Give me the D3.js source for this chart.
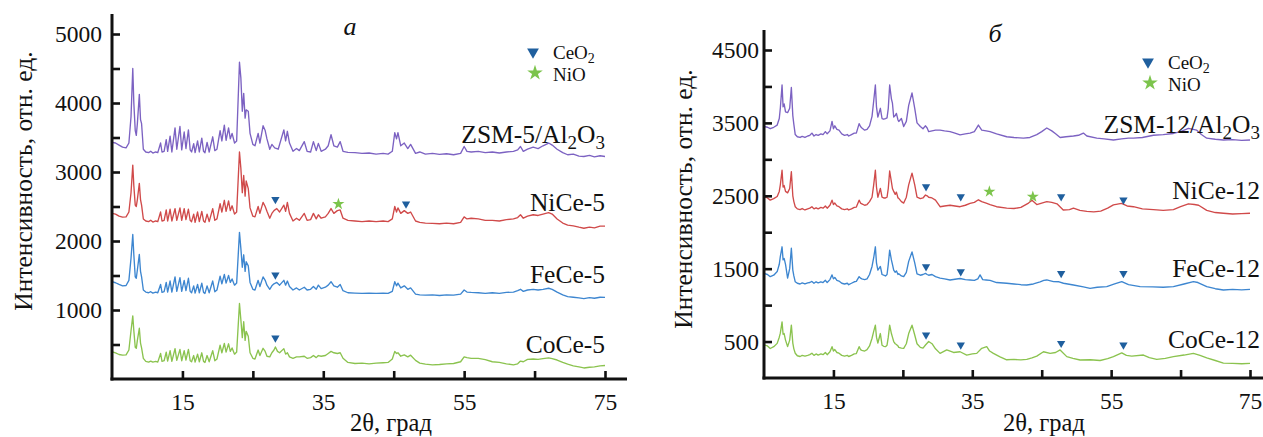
<!DOCTYPE html>
<meta charset="utf-8">
<body style="margin:0;background:#fff;">
<svg id="chart" width="1263" height="437"></svg>
<script src="https://cdn.jsdelivr.net/npm/d3@7/dist/d3.min.js"></script>
<script>
// ---- data: [2θ, intensity] ----
const zsm5 = [[5.0,3430],[5.5,3420],[6.0,3390],[6.5,3360],[7.0,3350],[7.4,3420],[7.7,3800],[7.95,4500],[8.1,4000],[8.3,3600],[8.45,3530],[8.6,3700],[8.88,4125],[9.05,3760],[9.2,3700],[9.45,3330],[9.8,3290],[10.2,3280],[10.5,3300],[10.8,3275],[11.2,3290],[11.5,3280],[11.9,3420],[12.1,3290],[12.4,3300],[12.7,3470],[12.9,3300],[13.25,3520],[13.5,3290],[13.95,3640],[14.2,3330],[14.65,3660],[14.9,3320],[15.25,3580],[15.5,3340],[15.85,3610],[16.1,3320],[16.3,3290],[16.6,3410],[16.8,3280],[17.15,3450],[17.4,3290],[17.75,3490],[18.0,3300],[18.2,3280],[18.5,3430],[18.8,3290],[19.3,3510],[19.6,3310],[19.9,3330],[20.35,3600],[20.6,3450],[20.95,3680],[21.2,3460],[21.55,3640],[21.8,3480],[22.05,3560],[22.4,3420],[22.7,3450],[23.1,4590],[23.3,4360],[23.5,3880],[23.7,4140],[23.9,3780],[24.05,3900],[24.35,3880],[24.6,3560],[25.0,3400],[25.3,3380],[25.75,3560],[26.0,3420],[26.45,3670],[26.75,3600],[27.0,3480],[27.4,3330],[27.7,3400],[28.1,3350],[28.6,3330],[29.4,3610],[29.65,3450],[29.9,3590],[30.2,3420],[30.7,3300],[31.2,3340],[31.6,3310],[32.3,3440],[32.7,3300],[33.2,3290],[33.6,3440],[34.0,3310],[34.3,3415],[34.7,3300],[35.3,3330],[35.7,3380],[36.1,3540],[36.5,3380],[37.0,3360],[37.4,3440],[37.8,3300],[38.5,3285],[39.5,3280],[40.5,3270],[41.5,3275],[42.5,3260],[43.5,3270],[44.2,3260],[44.8,3300],[45.15,3570],[45.4,3480],[45.6,3570],[46.0,3380],[46.5,3420],[47.0,3340],[47.4,3400],[48.1,3270],[48.7,3290],[49.5,3260],[50.5,3270],[51.5,3255],[52.5,3265],[53.5,3250],[54.5,3270],[55.0,3370],[55.4,3300],[56.0,3290],[57.0,3300],[58.0,3280],[59.0,3290],[60.0,3275],[61.0,3290],[62.0,3300],[62.6,3320],[63.0,3370],[63.4,3300],[64.0,3330],[64.8,3360],[65.5,3340],[66.2,3380],[67.0,3420],[67.5,3390],[68.2,3330],[69.0,3280],[69.7,3250],[70.5,3260],[71.3,3230],[72.0,3225],[72.8,3240],[73.5,3220],[74.3,3235],[75.0,3225]];
const nice5 = [[5.0,2400],[5.5,2390],[6.0,2360],[6.5,2345],[7.0,2350],[7.4,2420],[7.7,2700],[7.95,3100],[8.1,2800],[8.3,2520],[8.45,2500],[8.6,2600],[8.88,2835],[9.05,2600],[9.2,2520],[9.45,2320],[9.8,2290],[10.2,2280],[10.5,2300],[10.8,2275],[11.2,2290],[11.5,2280],[11.9,2420],[12.1,2290],[12.4,2300],[12.7,2450],[12.9,2290],[13.25,2460],[13.5,2290],[13.95,2470],[14.2,2300],[14.65,2480],[14.9,2300],[15.25,2470],[15.5,2310],[15.85,2460],[16.1,2300],[16.3,2280],[16.6,2390],[16.8,2270],[17.15,2420],[17.4,2280],[17.75,2430],[18.0,2290],[18.2,2270],[18.5,2390],[18.8,2280],[19.3,2470],[19.6,2300],[19.9,2320],[20.35,2540],[20.6,2420],[20.95,2590],[21.2,2430],[21.55,2580],[21.8,2440],[22.05,2510],[22.4,2390],[22.7,2420],[23.1,3290],[23.3,3050],[23.5,2700],[23.7,2950],[23.9,2650],[24.05,2870],[24.35,2760],[24.6,2480],[25.0,2360],[25.3,2350],[25.75,2500],[26.0,2400],[26.45,2560],[26.75,2500],[27.0,2430],[27.4,2330],[27.7,2400],[28.0,2440],[28.4,2470],[28.8,2420],[29.4,2520],[29.65,2430],[29.9,2560],[30.2,2400],[30.7,2290],[31.2,2330],[31.6,2300],[32.3,2400],[32.7,2300],[33.2,2310],[33.6,2400],[34.0,2320],[34.3,2380],[34.7,2330],[35.3,2350],[35.7,2400],[36.1,2470],[36.5,2400],[37.0,2440],[37.4,2450],[37.8,2330],[38.5,2300],[39.5,2290],[40.5,2280],[41.5,2290],[42.5,2280],[43.5,2290],[44.2,2280],[44.8,2320],[45.15,2500],[45.4,2420],[45.6,2480],[46.0,2400],[46.5,2440],[47.0,2400],[47.4,2420],[48.1,2290],[48.7,2270],[49.5,2260],[50.5,2255],[51.5,2250],[52.5,2260],[53.5,2250],[54.5,2270],[55.0,2350],[55.4,2320],[56.0,2330],[57.0,2320],[58.0,2300],[59.0,2300],[60.0,2290],[61.0,2310],[62.0,2320],[62.6,2340],[63.0,2380],[63.4,2330],[64.0,2360],[64.8,2380],[65.5,2370],[66.2,2390],[67.0,2410],[67.5,2390],[68.2,2320],[69.0,2260],[69.7,2230],[70.5,2220],[71.3,2200],[72.0,2185],[72.8,2200],[73.5,2190],[74.3,2215],[75.0,2215]];
const fece5 = [[5.0,1410],[5.5,1395],[6.0,1370],[6.5,1350],[7.0,1355],[7.4,1430],[7.7,1750],[7.95,2095],[8.1,1800],[8.3,1480],[8.45,1460],[8.6,1580],[8.88,1805],[9.05,1560],[9.2,1480],[9.45,1290],[9.8,1260],[10.2,1250],[10.5,1265],[10.8,1245],[11.2,1260],[11.5,1250],[11.9,1370],[12.1,1255],[12.4,1265],[12.7,1400],[12.9,1260],[13.25,1420],[13.5,1260],[13.95,1480],[14.2,1270],[14.65,1470],[14.9,1270],[15.25,1430],[15.5,1280],[15.85,1460],[16.1,1270],[16.3,1250],[16.6,1350],[16.8,1245],[17.15,1370],[17.4,1250],[17.75,1390],[18.0,1255],[18.2,1240],[18.5,1350],[18.8,1250],[19.3,1420],[19.6,1265],[19.9,1290],[20.35,1490],[20.6,1380],[20.95,1515],[21.2,1390],[21.55,1500],[21.8,1400],[22.05,1450],[22.4,1360],[22.7,1390],[23.1,2125],[23.3,1890],[23.5,1620],[23.7,1800],[23.9,1560],[24.05,1700],[24.35,1640],[24.6,1400],[25.0,1300],[25.3,1290],[25.75,1430],[26.0,1340],[26.45,1480],[26.75,1430],[27.0,1360],[27.4,1300],[27.7,1350],[28.0,1380],[28.4,1400],[28.8,1360],[29.4,1430],[29.65,1360],[29.9,1420],[30.2,1340],[30.7,1290],[31.2,1320],[31.6,1290],[32.3,1330],[32.7,1290],[33.2,1300],[33.6,1340],[34.0,1300],[34.3,1360],[34.7,1310],[35.3,1330],[35.7,1360],[36.1,1410],[36.5,1350],[37.0,1330],[37.4,1370],[37.8,1280],[38.5,1250],[39.5,1245],[40.5,1240],[41.5,1245],[42.5,1240],[43.5,1245],[44.2,1240],[44.8,1270],[45.15,1410],[45.4,1350],[45.6,1390],[46.0,1320],[46.5,1350],[47.0,1300],[47.4,1320],[48.1,1230],[48.7,1220],[49.5,1215],[50.5,1220],[51.5,1210],[52.5,1220],[53.5,1215],[54.5,1230],[55.0,1290],[55.4,1260],[56.0,1255],[57.0,1250],[58.0,1240],[59.0,1250],[60.0,1240],[61.0,1255],[62.0,1260],[62.6,1280],[63.0,1300],[63.4,1270],[64.0,1290],[64.8,1300],[65.5,1290],[66.2,1300],[67.0,1315],[67.5,1300],[68.2,1260],[69.0,1220],[69.7,1195],[70.5,1185],[71.3,1175],[72.0,1165],[72.8,1180],[73.5,1170],[74.3,1185],[75.0,1183]];
const coce5 = [[5.0,395],[5.5,380],[6.0,355],[6.5,345],[7.0,350],[7.4,420],[7.7,700],[7.95,915],[8.1,700],[8.3,460],[8.45,445],[8.6,560],[8.88,735],[9.05,520],[9.2,450],[9.45,300],[9.8,255],[10.2,245],[10.5,260],[10.8,245],[11.2,255],[11.5,245],[11.9,370],[12.1,255],[12.4,265],[12.7,390],[12.9,260],[13.25,410],[13.5,255],[13.95,440],[14.2,270],[14.65,430],[14.9,265],[15.25,410],[15.5,275],[15.85,430],[16.1,265],[16.3,250],[16.6,340],[16.8,245],[17.15,360],[17.4,250],[17.75,380],[18.0,255],[18.2,240],[18.5,340],[18.8,250],[19.3,410],[19.6,265],[19.9,290],[20.35,490],[20.6,380],[20.95,515],[21.2,390],[21.55,510],[21.8,400],[22.05,450],[22.4,360],[22.7,390],[23.1,1095],[23.3,855],[23.5,600],[23.7,830],[23.9,560],[24.05,690],[24.35,620],[24.6,380],[25.0,300],[25.3,290],[25.75,420],[26.0,340],[26.45,445],[26.75,400],[27.0,330],[27.4,320],[27.7,380],[28.0,420],[28.2,465],[28.5,400],[28.8,380],[29.4,440],[29.65,360],[29.9,380],[30.2,320],[30.7,300],[31.2,320],[31.6,320],[32.3,330],[32.7,300],[33.2,310],[33.6,340],[34.0,310],[34.3,340],[34.7,330],[35.3,340],[35.7,370],[36.1,400],[36.5,380],[37.0,370],[37.4,380],[37.8,300],[38.5,240],[39.5,225],[40.5,230],[41.5,220],[42.5,230],[43.5,235],[44.2,240],[44.8,290],[45.15,400],[45.4,370],[45.6,380],[46.0,330],[46.5,350],[47.0,320],[47.4,345],[48.1,270],[48.7,230],[49.5,215],[50.5,205],[51.5,210],[52.5,220],[53.5,225],[54.5,250],[55.0,320],[55.4,310],[56.0,300],[57.0,300],[58.0,280],[59.0,250],[60.0,240],[61.0,220],[62.0,205],[62.6,220],[63.0,260],[63.4,250],[64.0,285],[64.8,290],[65.5,285],[66.2,295],[67.0,305],[67.5,295],[68.2,275],[69.0,240],[69.7,215],[70.5,190],[71.3,175],[72.0,160],[72.8,170],[73.5,175],[74.3,190],[75.0,195]];

const zsm12 = [[5.0,3450],[5.5,3440],[5.9,3420],[6.4,3440],[6.9,3470],[7.2,3560],[7.35,3700],[7.6,4020],[7.75,3720],[7.9,3760],[8.1,3650],[8.4,3640],[8.7,3700],[8.94,3985],[9.15,3600],[9.3,3480],[9.5,3340],[9.8,3310],[10.2,3300],[10.5,3315],[10.9,3300],[11.3,3320],[11.6,3330],[11.9,3360],[12.2,3320],[12.5,3340],[12.8,3330],[13.2,3350],[13.5,3340],[13.84,3380],[14.1,3350],[14.5,3390],[14.8,3520],[15.0,3420],[15.2,3460],[15.5,3410],[15.8,3400],[16.2,3350],[16.6,3330],[17.0,3340],[17.2,3320],[17.6,3340],[18.0,3360],[18.3,3360],[18.7,3490],[18.9,3450],[19.1,3430],[19.5,3400],[19.84,3410],[20.2,3460],[20.56,3590],[20.8,3800],[21.04,4020],[21.2,3720],[21.4,3580],[21.76,3700],[22.0,3560],[22.24,3550],[22.5,3560],[22.72,3570],[22.9,3700],[23.1,4020],[23.35,3830],[23.5,3770],[23.68,3580],[23.9,3600],[24.07,3630],[24.3,3540],[24.41,3520],[24.79,3560],[25.12,3450],[25.5,3520],[25.84,3740],[26.32,3910],[26.71,3700],[27.04,3500],[27.52,3450],[27.9,3420],[28.24,3460],[28.5,3430],[28.72,3380],[29.2,3390],[29.7,3400],[30.36,3400],[31.0,3390],[31.8,3380],[32.5,3360],[33.24,3335],[34.0,3350],[34.68,3360],[35.3,3380],[35.88,3470],[36.36,3400],[37.0,3390],[37.56,3380],[38.5,3350],[39.96,3310],[41.0,3300],[42.37,3290],[43.3,3300],[44.29,3340],[45.0,3380],[45.73,3430],[46.45,3390],[47.0,3350],[47.65,3300],[48.5,3310],[49.57,3320],[50.3,3330],[51.0,3360],[51.5,3320],[52.93,3290],[54.0,3280],[55.33,3265],[56.5,3280],[57.5,3290],[58.21,3290],[59.5,3300],[61.09,3330],[62.5,3340],[63.97,3355],[65.0,3380],[66.13,3425],[67.33,3400],[68.0,3340],[68.77,3290],[70.0,3275],[71.17,3265],[72.5,3270],[73.8,3260],[75.0,3265]];
const nice12 = [[5.0,2490],[5.5,2470],[5.9,2440],[6.4,2460],[6.9,2490],[7.2,2560],[7.35,2650],[7.6,2850],[7.75,2620],[7.9,2640],[8.1,2560],[8.4,2540],[8.7,2600],[8.94,2830],[9.15,2500],[9.3,2420],[9.5,2350],[9.8,2320],[10.2,2310],[10.5,2325],[10.9,2305],[11.3,2320],[11.6,2330],[11.9,2350],[12.2,2320],[12.5,2335],[12.8,2320],[13.2,2340],[13.5,2330],[13.84,2360],[14.1,2330],[14.5,2370],[14.8,2440],[15.0,2380],[15.2,2400],[15.5,2360],[15.8,2350],[16.2,2320],[16.6,2310],[17.0,2320],[17.2,2305],[17.6,2320],[18.0,2340],[18.3,2345],[18.7,2440],[18.9,2400],[19.1,2390],[19.5,2370],[19.84,2380],[20.2,2420],[20.56,2480],[20.8,2650],[21.04,2850],[21.2,2620],[21.4,2480],[21.76,2600],[22.0,2480],[22.24,2470],[22.5,2470],[22.72,2480],[22.9,2600],[23.1,2840],[23.35,2690],[23.5,2600],[23.68,2560],[23.9,2520],[24.07,2550],[24.3,2470],[24.41,2465],[24.79,2420],[25.12,2400],[25.5,2480],[25.84,2650],[26.32,2810],[26.71,2650],[27.04,2480],[27.52,2460],[27.9,2470],[28.26,2510],[28.5,2500],[28.72,2480],[29.2,2470],[29.7,2440],[30.36,2350],[31.0,2360],[31.8,2370],[32.5,2360],[33.24,2350],[34.0,2370],[34.68,2395],[35.3,2410],[35.88,2445],[36.36,2420],[37.0,2400],[37.56,2380],[38.5,2350],[39.96,2330],[41.0,2325],[42.0,2340],[43.1,2400],[43.6,2440],[44.29,2380],[45.0,2400],[45.73,2420],[46.45,2410],[47.2,2390],[48.1,2305],[49.0,2310],[49.57,2330],[50.5,2300],[51.5,2285],[52.5,2280],[53.5,2290],[54.5,2330],[55.33,2375],[56.5,2395],[57.3,2360],[58.21,2350],[59.5,2320],[61.09,2310],[62.5,2300],[63.97,2310],[65.0,2350],[66.13,2390],[67.0,2380],[67.6,2370],[68.77,2300],[70.0,2270],[71.17,2260],[72.5,2250],[73.8,2255],[75.0,2260]];
const fece12 = [[5.0,1435],[5.5,1420],[5.9,1390],[6.4,1410],[6.9,1460],[7.2,1560],[7.35,1665],[7.6,1800],[7.75,1620],[7.9,1640],[8.1,1560],[8.4,1370],[8.7,1500],[8.94,1780],[9.15,1480],[9.3,1400],[9.5,1320],[9.8,1300],[10.2,1290],[10.5,1305],[10.9,1290],[11.3,1305],[11.6,1310],[11.9,1325],[12.2,1300],[12.5,1320],[12.8,1305],[13.2,1320],[13.5,1310],[13.84,1340],[14.1,1310],[14.5,1350],[14.8,1415],[15.0,1360],[15.2,1380],[15.5,1340],[15.8,1330],[16.2,1300],[16.6,1290],[17.0,1300],[17.2,1280],[17.6,1300],[18.0,1320],[18.3,1325],[18.7,1390],[18.9,1370],[19.1,1360],[19.5,1350],[19.84,1360],[20.2,1420],[20.56,1530],[20.8,1650],[21.04,1800],[21.2,1580],[21.4,1480],[21.76,1530],[22.0,1420],[22.24,1410],[22.5,1400],[22.72,1420],[22.9,1560],[23.1,1755],[23.35,1620],[23.5,1560],[23.68,1480],[23.9,1450],[24.07,1470],[24.3,1420],[24.41,1430],[24.79,1400],[25.12,1390],[25.5,1450],[25.84,1600],[26.32,1730],[26.71,1580],[27.04,1430],[27.52,1410],[27.9,1420],[28.26,1436],[28.5,1420],[28.72,1410],[29.2,1420],[29.7,1390],[30.36,1370],[31.0,1360],[31.8,1345],[32.5,1355],[33.24,1365],[34.0,1350],[34.68,1345],[35.3,1340],[35.8,1360],[36.12,1415],[36.5,1350],[37.0,1345],[37.56,1340],[38.5,1310],[39.96,1300],[41.0,1290],[42.0,1280],[42.85,1276],[43.8,1290],[44.77,1320],[45.3,1340],[45.73,1345],[46.69,1322],[47.5,1320],[48.13,1300],[49.57,1276],[51.0,1250],[51.97,1230],[53.0,1245],[54.37,1253],[55.5,1290],[56.53,1322],[57.5,1280],[59.17,1253],[61.0,1250],[62.5,1245],[63.97,1253],[65.5,1290],[66.85,1322],[67.5,1310],[68.77,1253],[70.0,1225],[71.17,1207],[72.5,1215],[73.8,1210],[75.0,1216]];
const coce12 = [[5.0,455],[5.5,440],[5.9,405],[6.4,430],[6.9,475],[7.2,560],[7.35,615],[7.6,770],[7.75,600],[7.9,610],[8.1,520],[8.4,430],[8.7,520],[8.94,725],[9.15,480],[9.3,400],[9.5,340],[9.8,305],[10.2,295],[10.5,310],[10.9,300],[11.3,310],[11.6,320],[11.9,340],[12.2,310],[12.5,330],[12.8,315],[13.2,330],[13.5,320],[13.84,350],[14.1,320],[14.5,360],[14.8,430],[15.0,370],[15.2,390],[15.5,350],[15.8,340],[16.2,310],[16.6,300],[17.0,310],[17.2,295],[17.6,310],[18.0,330],[18.3,335],[18.7,430],[18.9,390],[19.1,380],[19.5,370],[19.84,390],[20.2,440],[20.56,545],[20.8,640],[21.04,725],[21.2,560],[21.4,480],[21.76,610],[22.0,450],[22.24,435],[22.5,430],[22.72,450],[22.9,560],[23.1,725],[23.35,610],[23.5,560],[23.68,500],[23.9,470],[24.07,460],[24.3,440],[24.41,420],[24.79,410],[25.12,407],[25.5,470],[25.84,610],[26.32,725],[26.71,590],[27.04,470],[27.52,420],[27.9,410],[28.26,453],[28.72,500],[29.2,470],[29.7,400],[30.36,338],[31.32,385],[32.3,350],[33.24,360],[34.2,315],[35.0,330],[35.64,338],[36.36,407],[37.08,430],[37.5,370],[38.04,338],[39.0,290],[39.96,250],[41.0,255],[42.0,248],[42.85,255],[43.6,275],[44.29,300],[45.25,360],[46.21,338],[47.0,350],[47.65,385],[48.61,293],[49.5,270],[50.53,247],[52.0,250],[53.41,240],[54.5,265],[55.33,293],[56.53,345],[57.2,310],[57.97,300],[59.65,315],[60.5,280],[61.57,255],[62.8,270],[63.97,293],[65.5,315],[66.85,338],[67.8,310],[68.77,275],[70.0,240],[71.17,205],[72.5,200],[73.8,195],[75.0,200]];

// phase markers [2θ, intensity]
const ceo2A = [[28.2,2604],[46.75,2536],[28.2,1507],[28.2,594]];
const nioA = [[37.15,2536]];
const ceo2B = [[28.34,2625],[33.34,2487],[47.8,2487],[56.77,2442],[28.34,1527],[33.34,1458],[47.8,1436],[56.77,1436],[28.34,590],[33.34,453],[47.8,476],[56.77,453]];
const nioB = [[37.46,2556],[43.72,2487]];

const namesA = [["ZSM-5/Al", "2", "O", "3"], ["NiCe-5"], ["FeCe-5"], ["CoCe-5"]];
const namesB = [["ZSM-12/Al", "2", "O", "3"], ["NiCe-12"], ["FeCe-12"], ["CoCe-12"]];
const colors = ["#7c62c2", "#d04a4a", "#3d86d0", "#8bc34f"];

const xTicks = [15, 25, 35, 45, 55, 65, 75];
const xTickLabels = [15, 35, 55, 75];
const yTicksA = [500, 1000, 1500, 2000, 2500, 3000, 3500, 4000, 4500, 5000];
const yTickLabelsA = [1000, 2000, 3000, 4000, 5000];
const yTicksB = [500, 1000, 1500, 2000, 2500, 3000, 3500, 4000, 4500];
const yTickLabelsB = [500, 1500, 2500, 3500, 4500];

const svg = d3.select("#chart");
const serif = "'Liberation Serif', 'DejaVu Serif', serif";
const triColor = "#1f5f9e", starColor = "#7cc44c";

function drawPanel(o) {
    let x = d3.scaleLinear().domain([5, 75]).range(o.xr);
    let y = d3.scaleLinear().domain([0, o.ymax]).range(o.yr);
    let g = svg.append("g");

    // series
    let line = d3.line().x(d => x(d[0])).y(d => y(d[1]));
    o.series.forEach((s, i) => {
        g.append("path").datum(s)
            .attr("d", line)
            .attr("fill", "none")
            .attr("stroke", colors[i])
            .attr("stroke-width", 1.35)
            .attr("stroke-linejoin", "round");
    });

    // axes
    let yAxis = d3.axisLeft(y).tickValues(o.yTicks)
        .tickFormat(d => o.yLabels.includes(d) ? d : "")
        .tickSizeInner(-8).tickSizeOuter(0).tickPadding(o.yPad);
    let ga = g.append("g").attr("transform", `translate(${o.xr[0]},0)`).call(yAxis);
    let xAxis = d3.axisBottom(x).tickValues(xTicks)
        .tickFormat(d => xTickLabels.includes(d) ? d : "")
        .tickSizeInner(-8).tickSizeOuter(0).tickPadding(14);
    let gb = g.append("g").attr("transform", `translate(0,${o.yr[0]})`).call(xAxis);
    [ga, gb].forEach(a => {
        a.select(".domain").remove();
        a.selectAll("line").attr("stroke", "#111").attr("stroke-width", 2.6);
        a.selectAll("text").attr("fill", "#111")
            .style("font-family", serif).style("font-size", "23.5px");
    });
    g.append("line").attr("x1", o.xr[0]).attr("x2", o.xr[0])
        .attr("y1", o.axisTop).attr("y2", o.yr[0] + 1.5)
        .attr("stroke", "#111").attr("stroke-width", 3);
    g.append("line").attr("x1", o.xr[0] - 1.5).attr("x2", o.axisRight)
        .attr("y1", o.yr[0]).attr("y2", o.yr[0])
        .attr("stroke", "#111").attr("stroke-width", 3);

    // markers
    let tri = d3.symbol(d3.symbolTriangle, 30), star = d3.symbol(d3.symbolStar, 45);
    g.selectAll(".tri").data(o.ceo2).join("path")
        .attr("d", tri).attr("fill", triColor)
        .attr("transform", d => `translate(${x(d[0])},${y(d[1])}) rotate(180)`);
    g.selectAll(".star").data(o.nio).join("path")
        .attr("d", star).attr("fill", starColor)
        .attr("transform", d => `translate(${x(d[0])},${y(d[1])})`);

    // series labels
    o.names.forEach((n, i) => {
        let t = g.append("text").attr("x", o.labelRight).attr("y", o.labelY[i])
            .attr("text-anchor", "end").attr("fill", "#111")
            .style("font-family", serif).style("font-size", "25.5px");
        t.append("tspan").text(n[0]);
        if (n.length > 1) {
            t.append("tspan").attr("dy", 6).style("font-size", "19px").text(n[1]);
            t.append("tspan").attr("dy", -6).text(n[2]);
            t.append("tspan").attr("dy", 6).style("font-size", "19px").text(n[3]);
        }
    });

    // legend
    let lg = g.append("g").attr("transform", `translate(${o.legend[0]},${o.legend[1]})`);
    lg.append("path").attr("d", d3.symbol(d3.symbolTriangle, 60)).attr("fill", triColor)
        .attr("transform", "translate(0,0) rotate(180)");
    lg.append("path").attr("d", d3.symbol(d3.symbolStar, 75)).attr("fill", starColor)
        .attr("transform", "translate(2,21)");
    let lt = lg.append("text").attr("x", 20).attr("y", 6.5).attr("fill", "#111")
        .style("font-family", serif).style("font-size", "19px");
    lt.append("tspan").text("CeO");
    lt.append("tspan").attr("dy", 4).style("font-size", "14px").text("2");
    lg.append("text").attr("x", 20).attr("y", 29).attr("fill", "#111")
        .style("font-family", serif).style("font-size", "19px").text("NiO");

    // panel letter
    g.append("text").attr("x", o.letter[0]).attr("y", o.letter[1]).attr("text-anchor", "middle")
        .attr("fill", "#111").style("font-family", serif).style("font-style", "italic")
        .style("font-size", "26px").text(o.letter[2]);

    // axis titles
    g.append("text").attr("transform", `translate(${o.ytitle[0]},${o.ytitle[1]}) rotate(-90)`)
        .attr("text-anchor", "middle").attr("fill", "#111")
        .style("font-family", serif).style("font-size", "25.5px")
        .text("Интенсивность, отн. ед.");
    g.append("text").attr("x", o.xtitle[0]).attr("y", o.xtitle[1]).attr("text-anchor", "middle")
        .attr("fill", "#111").style("font-family", serif).style("font-size", "24.5px")
        .text("2θ, град");
}

drawPanel({
    xr: [112, 605], yr: [379, 34], ymax: 5000, axisTop: 14, axisRight: 627, yPad: 10,
    yTicks: yTicksA, yLabels: yTickLabelsA,
    series: [zsm5, nice5, fece5, coce5], names: namesA, ceo2: ceo2A, nio: nioA,
    labelRight: 605, labelY: [143, 211, 283, 353],
    legend: [533, 52], letter: [350, 35, "а"], ytitle: [32, 181], xtitle: [391, 431]
});
drawPanel({
    xr: [764, 1250], yr: [378, 50], ymax: 4500, axisTop: 30, axisRight: 1263, yPad: 5,
    yTicks: yTicksB, yLabels: yTickLabelsB,
    series: [zsm12, nice12, fece12, coce12], names: namesB, ceo2: ceo2B, nio: nioB,
    labelRight: 1260, labelY: [133, 199, 277, 348],
    legend: [1148, 62], letter: [995, 42, "б"], ytitle: [692, 199], xtitle: [1044, 431]
});
</script>
</body>
